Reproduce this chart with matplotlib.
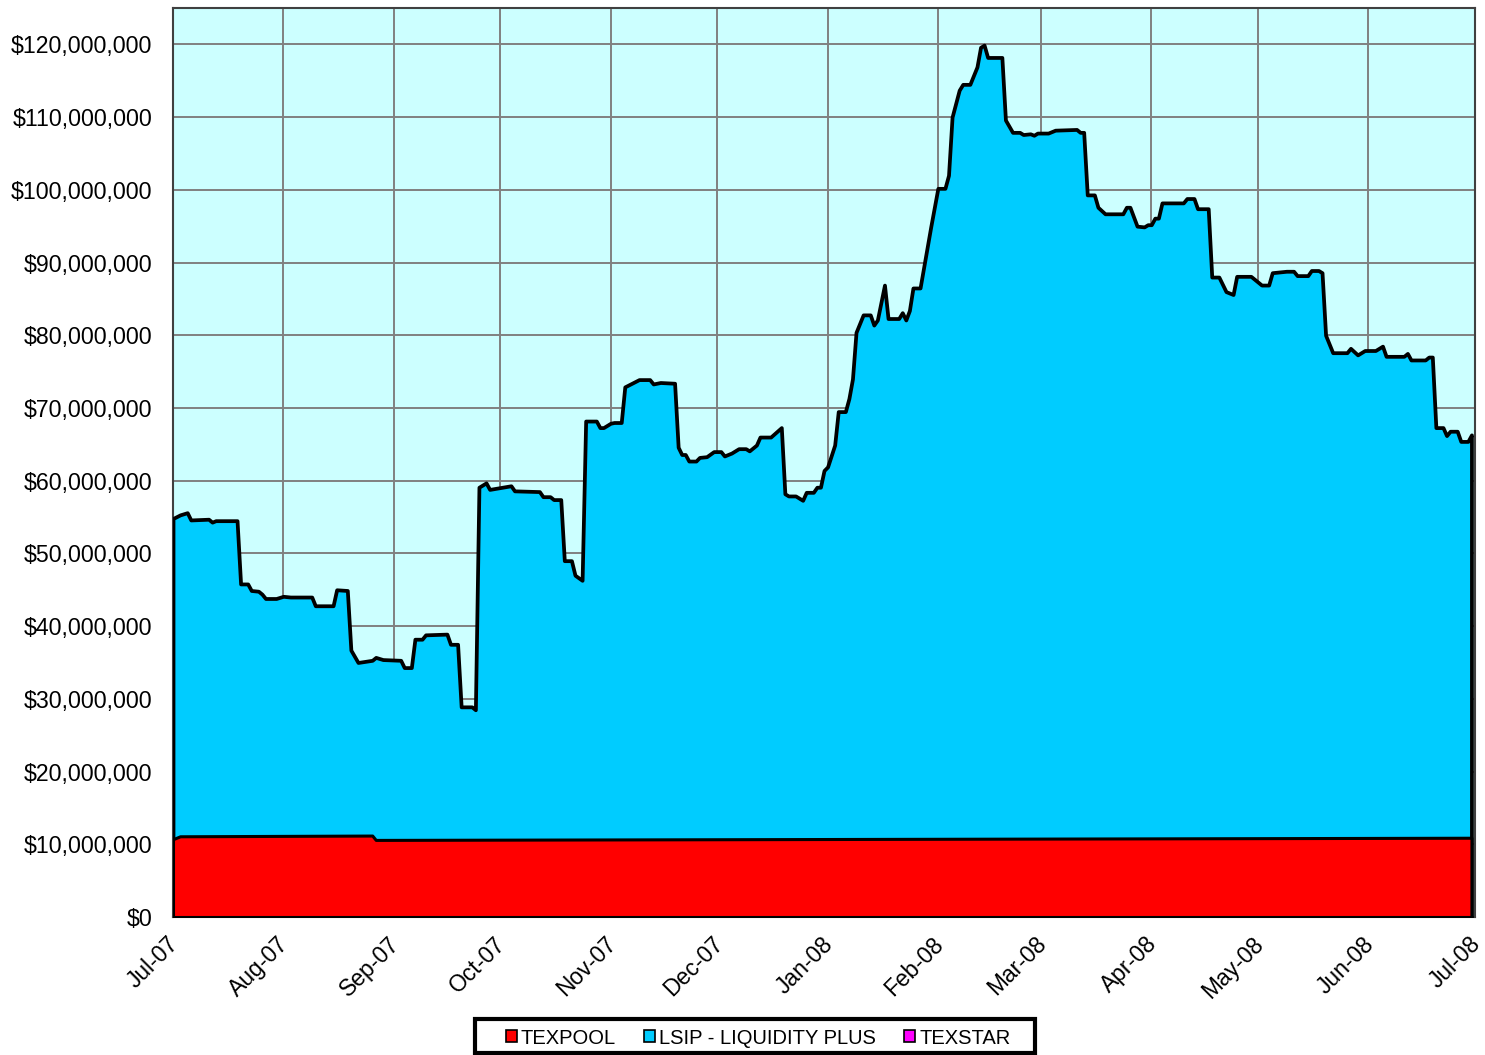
import numpy as np
import matplotlib
matplotlib.use("Agg")
import matplotlib.pyplot as plt
import matplotlib.dates as mdates
import matplotlib.transforms as mtransforms
from matplotlib.patches import Patch, Rectangle

plt.rcParams['font.family'] = ['Liberation Sans', 'DejaVu Sans']

# day offsets from 2007-07-01 and stacked top value (TEXPOOL + LSIP), $ millions
top_days = [0, 2, 4, 5, 10, 11, 12, 18, 19, 21, 22, 24, 25, 26, 29, 31, 33, 39, 40, 45,
            46, 49, 50, 52, 56, 57, 59, 64, 65, 67, 68, 70, 71, 77, 78, 80, 81, 84, 85, 86,
            88, 89, 95, 96, 103, 104, 106, 107, 109, 110, 112, 113, 115, 116, 119, 120, 121, 123, 124, 126,
            127, 129, 131, 134, 135, 137, 141, 142, 143, 144, 145, 147, 148, 150, 152, 154, 155, 157, 159, 161,
            162, 164, 165, 168, 171, 172, 173, 175, 177, 178, 180, 181, 182, 183, 184, 186, 187, 189, 190, 191,
            192, 194, 196, 197, 198, 200, 201, 204, 205, 206, 207, 208, 210, 213, 215, 217, 218, 219, 221, 222,
            224, 226, 227, 228, 229, 233, 234, 236, 238, 239, 241, 242, 243, 246, 248, 254, 255, 256, 257, 259,
            260, 262, 267, 268, 269, 271, 273, 274, 275, 276, 277, 278, 284, 285, 287, 288, 291, 292, 294, 296,
            298, 299, 303, 304, 306, 308, 309, 313, 315, 316, 319, 320, 322, 323, 324, 326, 330, 331, 333, 335,
            338, 340, 341, 346, 347, 348, 352, 353, 354, 355, 357, 358, 359, 361, 362, 364, 365]
top_vals = [54.8, 55.3, 55.6, 54.6, 54.7, 54.3, 54.5, 54.5, 45.8, 45.8, 44.9, 44.8, 44.4, 43.8, 43.8, 44.1, 44.0, 44.0, 42.8, 42.8,
            45.0, 44.9, 36.7, 35.0, 35.3, 35.7, 35.4, 35.3, 34.3, 34.3, 38.2, 38.2, 38.8, 38.9, 37.5, 37.5, 28.9, 28.9, 28.5, 59.1,
            59.7, 58.8, 59.3, 58.6, 58.5, 57.8, 57.8, 57.4, 57.4, 49.0, 49.0, 47.0, 46.3, 68.2, 68.2, 67.3, 67.3, 67.9, 68.0, 68.0,
            72.9, 73.4, 73.9, 73.9, 73.3, 73.5, 73.4, 64.6, 63.6, 63.6, 62.7, 62.7, 63.2, 63.3, 64.0, 64.0, 63.4, 63.8, 64.4, 64.4,
            64.1, 64.9, 66.0, 66.0, 67.3, 58.2, 57.9, 57.9, 57.3, 58.4, 58.4, 59.1, 59.1, 61.4, 61.9, 64.9, 69.5, 69.5, 71.3, 74.0,
            80.4, 82.8, 82.8, 81.4, 82.1, 86.9, 82.3, 82.3, 83.1, 82.1, 83.4, 86.5, 86.5, 94.9, 100.2, 100.2, 102.0, 110.0, 113.7, 114.5,
            114.5, 116.9, 119.6, 119.9, 118.2, 118.2, 109.6, 107.9, 107.9, 107.6, 107.7, 107.5, 107.8, 107.8, 108.2, 108.3, 107.9, 107.9, 99.3, 99.3,
            97.6, 96.7, 96.7, 97.6, 97.6, 95.0, 94.9, 95.2, 95.2, 96.1, 96.1, 98.2, 98.2, 98.8, 98.8, 97.4, 97.4, 88.0, 88.0, 86.0,
            85.6, 88.1, 88.1, 87.7, 86.9, 86.9, 88.6, 88.8, 88.8, 88.2, 88.2, 88.9, 88.9, 88.6, 80.0, 77.6, 77.6, 78.2, 77.3, 77.9,
            77.9, 78.5, 77.1, 77.1, 77.5, 76.6, 76.6, 77.0, 77.0, 67.3, 67.3, 66.2, 66.8, 66.8, 65.4, 65.4, 66.3]

texpool_days = [0, 2, 56, 57, 365]
texpool_vals = [10.7, 11.1, 11.2, 10.6, 10.9]

series_names = ['TEXPOOL', 'LSIP - LIQUIDITY PLUS', 'TEXSTAR']
series_colors = ['#FF0000', '#00CCFF', '#FF00FF']

base = np.datetime64('2007-07-01')
top_x = base + np.array(top_days).astype('timedelta64[D]')
tex_x = base + np.array(texpool_days).astype('timedelta64[D]')

fig = plt.figure(figsize=(14.85, 10.55), dpi=100)
ax = fig.add_axes([173 / 1485, 1 - 917 / 1055, (1475 - 173) / 1485, (917 - 8) / 1055])
ax.set_facecolor('#CCFFFF')

ax.fill_between(top_x, 0, np.array(top_vals) * 1e6, facecolor=series_colors[1],
                edgecolor='black', linewidth=2.7, zorder=3)
ax.fill_between(tex_x, 0, np.array(texpool_vals) * 1e6, facecolor=series_colors[0],
                edgecolor='black', linewidth=2.2, zorder=4)

ax.set_xlim(base, np.datetime64('2008-07-01'))
ax.set_ylim(0, 125e6)
ax.set_yticks(np.arange(0, 121e6, 10e6))
ax.yaxis.set_major_formatter(plt.FuncFormatter(lambda v, p: '${:,.0f}'.format(v)))
ax.xaxis.set_major_locator(mdates.MonthLocator())
ax.xaxis.set_major_formatter(mdates.DateFormatter('%b-%y'))
ax.tick_params(axis='y', labelsize=16.7, length=0, pad=15)
ax.tick_params(axis='x', labelsize=16.5, length=0, pad=17)
shift = mtransforms.ScaledTranslation(1.5 / 72, 0, fig.dpi_scale_trans)
for lab in ax.get_xticklabels():
    lab.set_rotation(45)
    lab.set_ha('right')
    lab.set_va('center')
    lab.set_rotation_mode('anchor')
    lab.set_transform(lab.get_transform() + shift)

ax.grid(True, color='#808080', linewidth=1.4, zorder=1)
ax.set_axisbelow(True)
for s in ax.spines.values():
    s.set_color('#404040')
    s.set_linewidth(1.5)

# legend box drawn separately to get the wide side padding
fig.patches.append(Rectangle((475 / 1485, 1 - 1053 / 1055), 560 / 1485, 34 / 1055,
                             transform=fig.transFigure, facecolor='white',
                             edgecolor='black', linewidth=3, zorder=1))
handles = [Patch(facecolor=c, edgecolor='black', linewidth=1.2) for c in series_colors]
leg = fig.legend(handles, series_names, loc='center', ncol=3,
                 bbox_to_anchor=(758 / 1485, 1 - 1038 / 1055), fontsize=14.5,
                 frameon=False, handlelength=0.55, handleheight=0.55,
                 handletextpad=0.2, columnspacing=1.4, borderpad=0.2)
leg.set_zorder(5)

fig.savefig('out.png', dpi=100)
